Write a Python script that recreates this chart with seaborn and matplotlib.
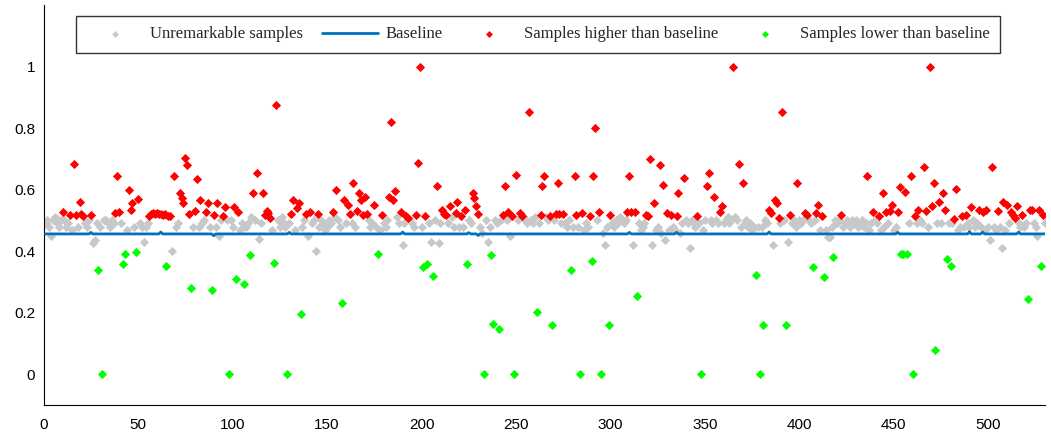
import numpy as np
import pandas as pd
import matplotlib
matplotlib.use("Agg")
import matplotlib.pyplot as plt
import seaborn as sns

# ---------------- data ----------------
N_SAMPLES = 530

# level of each sample (used for the unremarkable / grey samples)
unremarkable_level = [
    0.49, 0.50, 0.48, 0.45, 0.50, 0.51, 0.49, 0.48, 0.50, 0.49,
    0.50, 0.48, 0.49, 0.50, 0.47, 0.50, 0.49, 0.48, 0.50, 0.49,
    0.50, 0.49, 0.48, 0.50, 0.49, 0.425, 0.435, 0.49, 0.50, 0.48,
    0.49, 0.50, 0.50, 0.49, 0.48, 0.50, 0.49, 0.50, 0.49, 0.50,
    0.49, 0.48, 0.49, 0.47, 0.50, 0.49, 0.50, 0.48, 0.49, 0.50,
    0.49, 0.48, 0.43, 0.48, 0.49, 0.50, 0.49, 0.50, 0.49, 0.48,
    0.49, 0.50, 0.49, 0.48, 0.49, 0.50, 0.49, 0.40, 0.49, 0.48,
    0.49, 0.50, 0.49, 0.48, 0.50, 0.49, 0.50, 0.49, 0.48, 0.49,
    0.50, 0.48, 0.45, 0.49, 0.50, 0.49, 0.47, 0.48, 0.49, 0.50,
    0.48, 0.49, 0.45, 0.50, 0.49, 0.48, 0.50, 0.49, 0.50, 0.48,
    0.49, 0.50, 0.48, 0.47, 0.49, 0.50, 0.48, 0.49, 0.50, 0.51,
    0.49, 0.50, 0.48, 0.44, 0.49, 0.50, 0.48, 0.49, 0.50, 0.49,
    0.47, 0.48, 0.49, 0.50, 0.48, 0.51, 0.49, 0.48, 0.50, 0.49,
    0.50, 0.49, 0.47, 0.48, 0.50, 0.49, 0.48, 0.50, 0.49, 0.45,
    0.48, 0.49, 0.50, 0.40, 0.49, 0.48, 0.50, 0.49, 0.47, 0.48,
    0.50, 0.49, 0.48, 0.51, 0.49, 0.50, 0.48, 0.49, 0.50, 0.49,
    0.48, 0.50, 0.49, 0.465, 0.48, 0.49, 0.50, 0.48, 0.49, 0.50,
    0.49, 0.50, 0.48, 0.49, 0.50, 0.48, 0.49, 0.47, 0.50, 0.49,
    0.48, 0.50, 0.49, 0.48, 0.50, 0.49, 0.51, 0.49, 0.48, 0.42,
    0.49, 0.50, 0.48, 0.50, 0.49, 0.48, 0.50, 0.49, 0.50, 0.48,
    0.49, 0.48, 0.50, 0.49, 0.43, 0.48, 0.50, 0.49, 0.425, 0.49,
    0.50, 0.49, 0.48, 0.49, 0.50, 0.51, 0.48, 0.49, 0.50, 0.48,
    0.49, 0.48, 0.47, 0.48, 0.50, 0.49, 0.48, 0.50, 0.49, 0.47,
    0.48, 0.46, 0.49, 0.50, 0.43, 0.48, 0.49, 0.47, 0.50, 0.49,
    0.48, 0.50, 0.49, 0.48, 0.50, 0.49, 0.45, 0.48, 0.49, 0.50,
    0.50, 0.49, 0.48, 0.51, 0.50, 0.49, 0.48, 0.50, 0.49, 0.51,
    0.50, 0.49, 0.48, 0.50, 0.49, 0.51, 0.50, 0.49, 0.48, 0.50,
    0.49, 0.48, 0.50, 0.49, 0.50, 0.49, 0.48, 0.50, 0.49, 0.48,
    0.49, 0.50, 0.48, 0.49, 0.50, 0.47, 0.49, 0.48, 0.50, 0.49,
    0.48, 0.49, 0.50, 0.48, 0.49, 0.46, 0.42, 0.48, 0.49, 0.50,
    0.49, 0.48, 0.50, 0.49, 0.51, 0.50, 0.49, 0.50, 0.48, 0.49,
    0.50, 0.42, 0.49, 0.48, 0.49, 0.47, 0.48, 0.49, 0.50, 0.49,
    0.48, 0.42, 0.49, 0.47, 0.48, 0.49, 0.46, 0.47, 0.435, 0.48,
    0.47, 0.49, 0.48, 0.47, 0.49, 0.48, 0.46, 0.49, 0.48, 0.50,
    0.49, 0.41, 0.50, 0.49, 0.48, 0.50, 0.49, 0.48, 0.47, 0.50,
    0.49, 0.48, 0.50, 0.49, 0.51, 0.50, 0.49, 0.48, 0.50, 0.49,
    0.50, 0.51, 0.49, 0.50, 0.49, 0.51, 0.50, 0.49, 0.48, 0.50,
    0.49, 0.50, 0.48, 0.49, 0.47, 0.48, 0.49, 0.48, 0.47, 0.48,
    0.49, 0.50, 0.49, 0.48, 0.49, 0.42, 0.48, 0.49, 0.50, 0.49,
    0.48, 0.50, 0.49, 0.43, 0.48, 0.49, 0.50, 0.48, 0.49, 0.50,
    0.49, 0.50, 0.48, 0.49, 0.50, 0.49, 0.48, 0.50, 0.49, 0.48,
    0.47, 0.49, 0.48, 0.47, 0.445, 0.445, 0.48, 0.49, 0.50, 0.49,
    0.50, 0.49, 0.48, 0.49, 0.50, 0.49, 0.48, 0.50, 0.49, 0.50,
    0.48, 0.49, 0.50, 0.48, 0.49, 0.50, 0.47, 0.49, 0.48, 0.50,
    0.49, 0.48, 0.47, 0.49, 0.48, 0.47, 0.49, 0.48, 0.50, 0.47,
    0.48, 0.49, 0.47, 0.48, 0.49, 0.47, 0.48, 0.49, 0.50, 0.49,
    0.50, 0.49, 0.48, 0.50, 0.49, 0.48, 0.49, 0.48, 0.49, 0.50,
    0.49, 0.48, 0.49, 0.48, 0.49, 0.50, 0.49, 0.48, 0.49, 0.48,
    0.49, 0.48, 0.49, 0.47, 0.48, 0.49, 0.48, 0.50, 0.49, 0.48,
    0.49, 0.50, 0.48, 0.49, 0.50, 0.48, 0.49, 0.47, 0.49, 0.48,
    0.435, 0.49, 0.48, 0.47, 0.49, 0.48, 0.41, 0.49, 0.47, 0.48,
    0.49, 0.48, 0.49, 0.48, 0.47, 0.49, 0.48, 0.49, 0.48, 0.49,
    0.48, 0.49, 0.48, 0.49, 0.48, 0.45, 0.48, 0.49, 0.48, 0.49,
]

higher_x = [
    10, 14, 16, 17, 19, 20, 21, 25, 38, 39, 40, 45, 46, 47, 50,
    56, 57, 58, 59, 60, 61, 62, 63, 64, 66, 67,
    69, 72, 73, 74, 75, 76, 77, 80, 81, 83, 86, 87, 90, 92, 95, 96, 101, 103,
    111, 113, 116, 117, 118, 119, 120, 123, 131, 132, 134, 135, 139, 141, 145, 153, 155, 159,
    161, 162, 164, 166, 167, 168, 169, 170, 171, 175, 179, 183, 184, 185, 186, 189, 192, 193,
    197, 198, 199, 202, 208, 211, 212, 213,
    215, 218, 219, 221, 223, 227, 228, 229, 230, 243, 244, 246, 248, 250, 252, 253, 257, 263, 264, 265,
    268, 271, 272, 273, 275, 281, 282, 285, 289, 291, 292, 294, 300, 309, 310, 311, 313, 319, 320,
    321, 323, 326, 328, 330, 332, 335, 336, 339, 346, 351, 352, 355, 358, 359, 365, 368, 370,
    384, 385, 387, 388, 389, 391, 395, 399, 403, 404, 409, 410, 412, 422,
    436, 439, 442, 444, 446, 448, 449, 452, 453, 456, 459, 461, 463, 466, 467, 469, 470, 471, 474, 476, 477,
    482, 483, 486, 488, 491, 495, 497, 499, 502, 505, 508, 510, 512, 513, 514, 515, 518, 522, 523, 527, 529,
]
higher_y = [
    0.528, 0.519, 0.683, 0.519, 0.560, 0.522, 0.513, 0.519, 0.524, 0.645, 0.528, 0.598, 0.535, 0.555, 0.571,
    0.515, 0.520, 0.525, 0.520, 0.525, 0.520, 0.522, 0.518, 0.520, 0.513, 0.515,
    0.645, 0.589, 0.573, 0.555, 0.703, 0.681, 0.522, 0.532, 0.636, 0.565, 0.528, 0.555, 0.519, 0.555, 0.513, 0.543, 0.544, 0.528,
    0.589, 0.654, 0.589, 0.516, 0.530, 0.524, 0.508, 0.876, 0.522, 0.565, 0.540, 0.558, 0.521, 0.528, 0.522, 0.528, 0.598, 0.565,
    0.549, 0.522, 0.622, 0.532, 0.589, 0.565, 0.517, 0.575, 0.522, 0.549, 0.519, 0.577, 0.820, 0.567, 0.594, 0.528, 0.513, 0.508,
    0.519, 0.687, 1.000, 0.513, 0.613, 0.533, 0.522, 0.517,
    0.546, 0.524, 0.560, 0.513, 0.535, 0.589, 0.573, 0.548, 0.522, 0.519, 0.613, 0.528, 0.513, 0.649, 0.524, 0.513, 0.852, 0.519, 0.613, 0.645,
    0.513, 0.520, 0.622, 0.520, 0.520, 0.645, 0.519, 0.524, 0.513, 0.645, 0.800, 0.528, 0.519, 0.528, 0.645, 0.528, 0.528, 0.519, 0.513,
    0.700, 0.555, 0.681, 0.616, 0.524, 0.519, 0.513, 0.589, 0.639, 0.513, 0.613, 0.654, 0.575, 0.528, 0.546, 1.000, 0.683, 0.622,
    0.535, 0.525, 0.565, 0.555, 0.508, 0.852, 0.519, 0.622, 0.524, 0.519, 0.524, 0.551, 0.513, 0.519,
    0.645, 0.528, 0.513, 0.589, 0.528, 0.532, 0.551, 0.528, 0.609, 0.592, 0.645, 0.513, 0.533, 0.674, 0.532, 1.000, 0.546, 0.622, 0.560, 0.589, 0.533,
    0.503, 0.603, 0.513, 0.519, 0.543, 0.535, 0.528, 0.535, 0.674, 0.532, 0.560, 0.551, 0.528, 0.517, 0.508, 0.546, 0.519, 0.533, 0.533, 0.533, 0.516,
]

lower_x = [29, 31, 42, 43, 49, 65, 78, 89, 98, 102, 106, 109, 122, 129, 136, 158, 177,
           201, 203, 206, 224, 233, 237, 238, 241, 249, 261, 269, 279, 284, 290, 295, 299,
           314, 348, 377, 379, 381, 393, 407, 413, 418, 454, 455, 457, 460, 472, 478, 480,
           521, 528]
lower_y = [0.338, 0.0, 0.359, 0.391, 0.397, 0.351, 0.281, 0.273, 0.0, 0.311, 0.292, 0.386, 0.362, 0.0, 0.197, 0.230, 0.391,
           0.348, 0.359, 0.319, 0.357, 0.0, 0.386, 0.164, 0.146, 0.0, 0.203, 0.159, 0.338, 0.0, 0.367, 0.0, 0.159,
           0.254, 0.0, 0.324, 0.0, 0.159, 0.159, 0.348, 0.316, 0.381, 0.391, 0.391, 0.391, 0.0, 0.079, 0.373, 0.351,
           0.245, 0.351]

baseline_level = 0.456
baseline_bump_x = [25, 62, 90, 130, 190, 225, 230, 310, 335, 384, 452, 490, 497, 516]
baseline_bump_y = [0.461, 0.462, 0.450, 0.461, 0.462, 0.460, 0.451, 0.461, 0.461, 0.462, 0.461, 0.463, 0.462, 0.462]

x_ticks = [0, 50, 100, 150, 200, 250, 300, 350, 400, 450, 500]
y_ticks = [0, 0.2, 0.4, 0.6, 0.8, 1.0]
y_tick_labels = ["0", "0.2", "0.4", "0.6", "0.8", "1"]
legend_labels = ["Unremarkable samples", "Baseline",
                 "Samples higher than baseline", "Samples lower than baseline"]

# ---------------- frames ----------------
idx = np.arange(1, N_SAMPLES + 1)
colored = set(higher_x) | set(lower_x)
gray_mask = np.array([i not in colored for i in idx])
df_gray = pd.DataFrame({"x": idx[gray_mask],
                        "y": np.asarray(unremarkable_level)[gray_mask]})
base = np.full(N_SAMPLES, baseline_level)
base[np.asarray(baseline_bump_x) - 1] = baseline_bump_y
df_base = pd.DataFrame({"x": idx, "y": base})
df_high = pd.DataFrame({"x": higher_x, "y": higher_y})
df_low = pd.DataFrame({"x": lower_x, "y": lower_y})

# ---------------- style ----------------
sns.set_style("white")
plt.rcParams["font.family"] = ["Liberation Serif", "DejaVu Serif"]

fig = plt.figure(figsize=(10.51, 4.34), dpi=100)
ax = fig.add_axes([0.0415, 0.0668, 0.9528, 0.9217])

GRAY = "#c8c8c8"
BLUE = "#0072bd"
RED = "#ff0000"
GREEN = "#00ff00"
MS = 22

sns.scatterplot(data=df_gray, x="x", y="y", ax=ax, marker="D", s=MS, color=GRAY,
                linewidth=0, label=legend_labels[0], zorder=2)
sns.lineplot(data=df_base, x="x", y="y", ax=ax, color=BLUE, linewidth=2.0,
             label=legend_labels[1], zorder=3)
sns.scatterplot(data=df_high, x="x", y="y", ax=ax, marker="D", s=MS, color=RED,
                linewidth=0, label=legend_labels[2], zorder=4)
sns.scatterplot(data=df_low, x="x", y="y", ax=ax, marker="D", s=MS, color=GREEN,
                linewidth=0, label=legend_labels[3], zorder=4)

ax.set_xlim(0, 530)
ax.set_ylim(-0.1, 1.2)
ax.set_xticks(x_ticks)
ax.set_yticks(y_ticks)
ax.set_yticklabels(y_tick_labels)
ax.set_xlabel("")
ax.set_ylabel("")
for lab in ax.get_xticklabels() + ax.get_yticklabels():
    lab.set_fontfamily(["Liberation Sans Narrow", "Liberation Sans", "DejaVu Sans"])
    lab.set_fontsize(11)
ax.tick_params(axis="both", direction="in", length=7, width=0.8, colors="black",
               labelcolor="black")
ax.tick_params(axis="x", pad=9)
ax.tick_params(axis="y", pad=6)
for side in ["top", "right"]:
    ax.spines[side].set_visible(False)
for side in ["left", "bottom"]:
    ax.spines[side].set_color("black")
    ax.spines[side].set_linewidth(0.8)

leg = ax.legend(loc="upper center", bbox_to_anchor=(0.494, 0.99), ncol=4,
                frameon=True, fancybox=False, fontsize=12, handlelength=3.4,
                handletextpad=0.4, columnspacing=1.1, borderpad=0.65,
                borderaxespad=0.4, markerscale=0.75)
leg.get_frame().set_edgecolor("black")
leg.get_frame().set_linewidth(1.0)

fig.savefig("out.png", dpi=100)
